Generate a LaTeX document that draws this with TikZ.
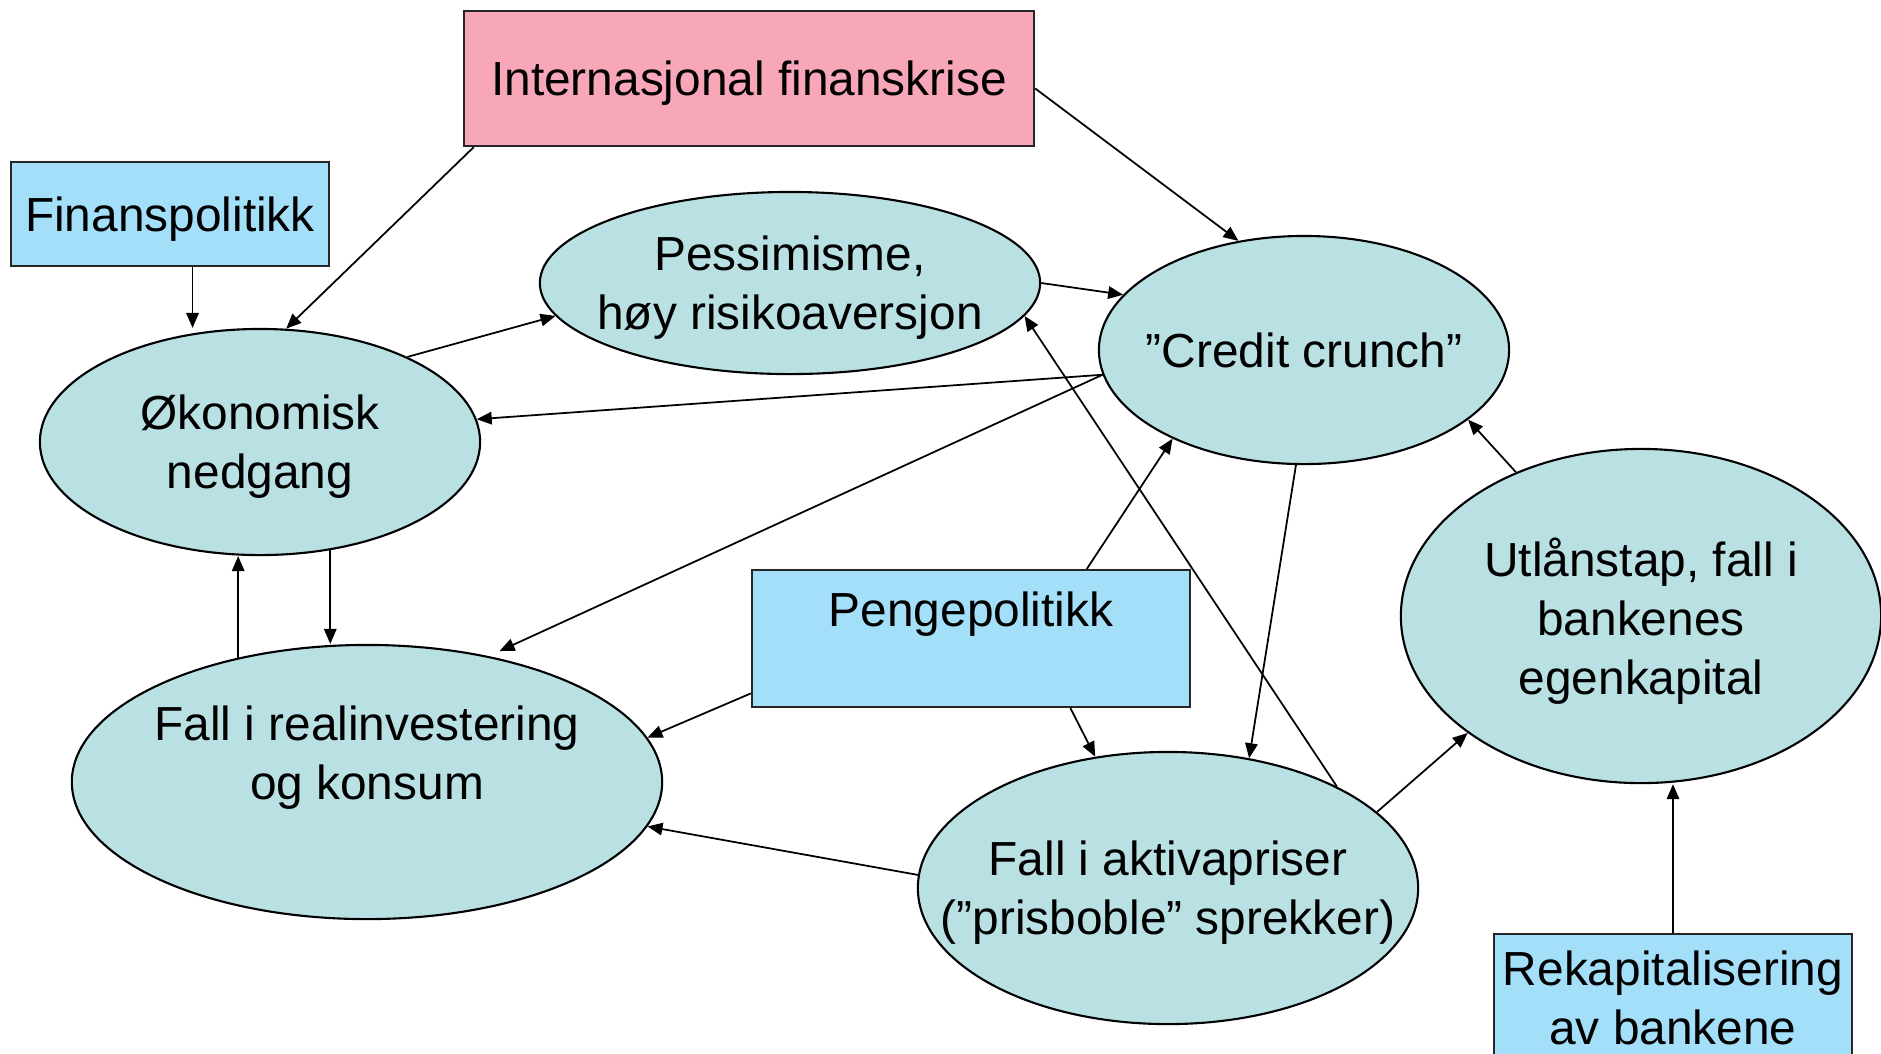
\documentclass[tikz,border=0pt]{standalone}
\usepackage{fontspec}
\setmainfont{Liberation Sans}
\usetikzlibrary{shapes.geometric,arrows.meta}
\definecolor{ellfill}{HTML}{B9E0E3}
\definecolor{boxblue}{HTML}{A4DFFA}
\definecolor{boxpink}{HTML}{F7A7B8}

\begin{document}
\begin{tikzpicture}[x=0.01cm,y=-0.01cm]
    \tikzstyle{every node}=[font=\fontsize{13.6}{16.8}\selectfont, text=black, align=center, text depth=0pt, line width=0.6pt]
    \tikzstyle{ell}=[ellipse, draw=black, fill=ellfill, inner xsep=-3cm, inner ysep=-1cm]
    \tikzstyle{box}=[rectangle, draw=black!85, fill=boxblue, inner sep=0pt]
    \tikzstyle{edge}=[-{Triangle[length=0.15cm,width=0.125cm]}, line width=0.5pt]

    \useasboundingbox (0,0) rectangle (1881,1053);

    \node[box, fill=boxpink, minimum width=5.7cm, minimum height=1.35cm] (int) at (749,78.5) {Internasjonal finanskrise};
    \node[box, minimum width=3.18cm, minimum height=1.04cm] (fin) at (170,214) {Finanspolitikk};
    \node[box, minimum width=4.38cm, minimum height=1.37cm] (pp) at (971,638.5) {Pengepolitikk\\\mbox{}};
    \node[box, minimum width=3.58cm, minimum height=1.28cm] (rk) at (1673,998) {Rekapitalisering\\av bankene};

    \node[ell, minimum width=5cm, minimum height=1.82cm] (pes) at (790,283) {Pessimisme,\\høy risikoaversjon};
    \node[ell, minimum width=4.1cm, minimum height=2.28cm] (cc) at (1304,350) {”Credit crunch”};
    \node[ell, minimum width=4.4cm, minimum height=2.26cm] (ok) at (260,442) {Økonomisk\\nedgang};
    \node[ell, minimum width=5.9cm, minimum height=2.74cm] (ri) at (367,782) {Fall i realinvestering\\og konsum\\\mbox{}};
    \node[ell, minimum width=4.8cm, minimum height=3.34cm] (ut) at (1641,616) {Utlånstap, fall i\\bankenes\\egenkapital};
    \node[ell, minimum width=5cm, minimum height=2.72cm] (ak) at (1168,888) {Fall i aktivapriser\\(”prisboble” sprekker)};

    \draw[edge] (int.194) -- (ok.77);
    \draw[edge] (int.358) -- (cc.121);
    \draw[edge] (fin.293) -- (fin.293 |- ok.north);
    \draw[edge] (ok.30) -- (pes.188);
    \draw[edge] (pes.0) -- (cc.163);
    \draw[edge] (cc.187) -- (ok.6);
    \draw[edge, shorten >=0.12cm] (cc.187) -- (ri.46);
    \draw[edge] (ok.-57) -- (ok.-57 |- ri.north);
    \draw[edge] (ri.136) -- (ri.136 |- ok.south);
    \draw[edge] (pp.194) -- (ri.9);
    \draw[edge] (pp.31) -- (cc.214);
    \draw[edge] (pp.325) -- (ak.119);
    \draw[edge] (cc.266) -- (ak.58);
    \draw[edge] (ak.31) -- (pes.352);
    \draw[edge] (ak.177) -- (ri.351);
    \draw[edge] (ak.20) -- (ut.214);
    \draw[edge] (ut.131) -- (cc.337);
    \draw[edge] (rk.north) -- (rk.north |- ut.south);
\end{tikzpicture}
\end{document}
